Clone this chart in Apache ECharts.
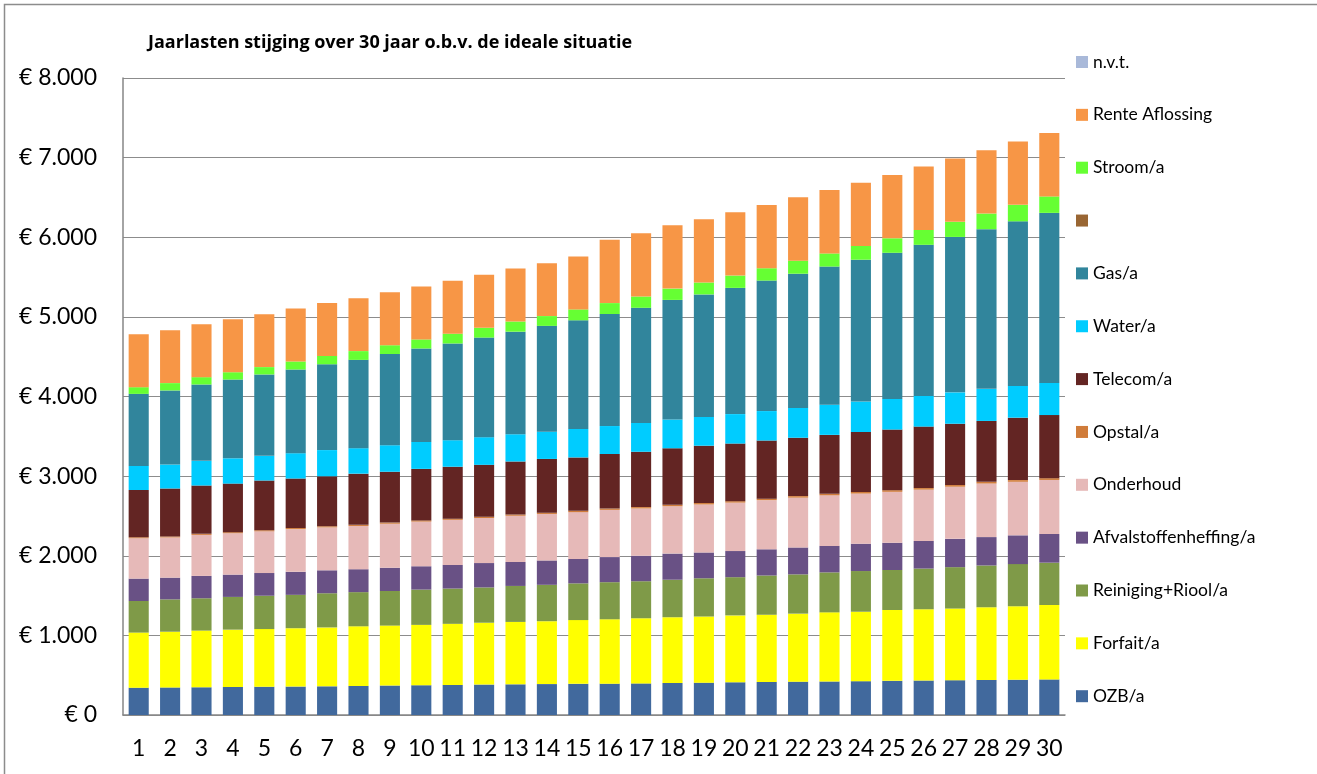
<!DOCTYPE html>
<html>
<head>
<meta charset="utf-8">
<title>Jaarlasten stijging</title>
<script src="https://cdn.jsdelivr.net/npm/echarts@6/dist/echarts.min.js"></script>
<style>
    html, body { margin: 0; padding: 0; background: #fff; }
    #chart { width: 1317px; height: 774px; }
</style>
</head>
<body>
<div id="chart"></div>
<script>
// categorieen (jaren)
var jaren = [];
for (var j = 1; j <= 30; j++) { jaren.push(String(j)); }

var yLabels = ['€ 0', '€ 1.000', '€ 2.000', '€ 3.000', '€ 4.000', '€ 5.000', '€ 6.000', '€ 7.000', '€ 8.000'];

// waarden per post
var ozb = [343, 346, 348, 352, 355, 357, 360, 365, 370, 374, 378, 382, 385, 388, 392, 394, 397, 402, 406, 411, 415, 419, 421, 425, 429, 433, 437, 440, 443, 447];
var forfait = [692, 700, 712, 720, 724, 733, 740, 749, 753, 758, 767, 777, 784, 790, 800, 808, 818, 826, 831, 840, 844, 854, 868, 872, 890, 895, 900, 914, 923, 933];
var reiniging = [397, 406, 406, 411, 419, 419, 429, 429, 434, 443, 443, 443, 452, 457, 461, 466, 465, 471, 480, 480, 493, 493, 502, 511, 502, 511, 520, 524, 529, 533];
var afval = [281, 273, 281, 280, 285, 289, 288, 288, 292, 293, 297, 306, 301, 306, 306, 315, 320, 328, 324, 328, 329, 338, 333, 343, 342, 347, 355, 356, 361, 361];
var onderhoud = [507, 505, 515, 520, 524, 536, 539, 543, 553, 561, 566, 566, 580, 584, 589, 593, 594, 595, 603, 608, 617, 626, 635, 630, 640, 644, 655, 673, 673, 678];
var opstal = [12, 12, 13, 13, 13, 14, 14, 14, 15, 15, 15, 16, 16, 16, 17, 17, 17, 18, 18, 18, 19, 19, 19, 20, 20, 20, 21, 21, 21, 22];
var telecom = [594, 603, 607, 610, 625, 622, 628, 643, 638, 647, 652, 652, 666, 675, 670, 685, 695, 710, 720, 724, 730, 733, 740, 753, 762, 772, 770, 765, 784, 793];
var water = [302, 301, 310, 318, 310, 318, 329, 320, 333, 338, 333, 347, 342, 342, 357, 351, 361, 361, 361, 370, 370, 375, 379, 383, 384, 384, 394, 403, 399, 404];
var gas = [905, 930, 959, 989, 1022, 1051, 1078, 1109, 1146, 1174, 1215, 1251, 1288, 1329, 1365, 1407, 1447, 1502, 1539, 1585, 1639, 1685, 1735, 1781, 1836, 1899, 1952, 2005, 2067, 2135];
var leeg = [0, 0, 0, 0, 0, 0, 0, 0, 0, 0, 0, 0, 0, 0, 0, 0, 0, 0, 0, 0, 0, 0, 0, 0, 0, 0, 0, 0, 0, 0];
var stroom = [84, 92, 92, 92, 92, 101, 105, 110, 110, 114, 123, 123, 128, 123, 137, 137, 142, 142, 150, 155, 155, 164, 165, 173, 182, 187, 190, 197, 207, 207];
var rente = [665, 665, 665, 665, 665, 665, 665, 665, 665, 665, 665, 665, 665, 665, 665, 795, 795, 795, 795, 795, 795, 795, 795, 795, 795, 795, 795, 795, 795, 795];
var nvt = [0, 0, 0, 0, 0, 0, 0, 0, 0, 0, 0, 0, 0, 0, 0, 0, 0, 0, 0, 0, 0, 0, 0, 0, 0, 0, 0, 0, 0, 0];

var seriesNames = ['OZB/a', 'Forfait/a', 'Reiniging+Riool/a', 'Afvalstoffenheffing/a', 'Onderhoud', 'Opstal/a',
    'Telecom/a', 'Water/a', 'Gas/a', ' ', 'Stroom/a', 'Rente Aflossing', 'n.v.t.'];
var seriesData = [ozb, forfait, reiniging, afval, onderhoud, opstal, telecom, water, gas, leeg, stroom, rente, nvt];
var seriesColors = ['#41699d', '#ffff00', '#7f9a48', '#695185', '#e6b9b8', '#d07c3a',
    '#632523', '#00ccff', '#31859c', '#996633', '#66ff33', '#f79646', '#a9b9d9'];

var myChart = echarts.init(document.getElementById('chart'));

var temp_series = [];
for (var i = 0; i < seriesData.length; i++) {
    temp_series.push({
        name: seriesNames[i],
        type: 'bar',
        stack: 'totaal',
        barCategoryGap: '36%',
        itemStyle: { color: seriesColors[i] },
        data: seriesData[i]
    });
}

var option = {
    animation: false,
    textStyle: { fontFamily: 'Lato, "Open Sans", sans-serif', color: '#000' },
    title: {
        text: 'Jaarlasten stijging over 30 jaar o.b.v. de ideale situatie',
        left: 148,
        top: 34,
        padding: 0,
        textStyle: { fontSize: 18, fontWeight: 'bold', color: '#000', fontFamily: '"Open Sans", sans-serif' }
    },
    legend: {
        orient: 'vertical',
        left: 1076,
        top: 53,
        padding: 0,
        itemWidth: 12,
        itemHeight: 12,
        itemGap: 34.85,
        icon: 'rect',
        data: seriesNames.slice().reverse(),
        textStyle: { fontSize: 17.5, lineHeight: 18, color: '#000', padding: [0, 0, 0, 0] }
    },
    grid: {
        left: 123,
        right: 252,
        top: 78,
        bottom: 59
    },
    xAxis: [{
        type: 'category',
        data: jaren,
        axisTick: { show: false },
        axisLine: { lineStyle: { color: '#868686', width: 1.5 } },
        axisLabel: { fontSize: 23, color: '#000', margin: 22, interval: 0 }
    }],
    yAxis: [{
        type: 'value',
        min: 0,
        max: 8000,
        interval: 1000,
        axisLine: { show: true, lineStyle: { color: '#868686', width: 1.5 } },
        axisTick: { show: false },
        splitLine: { lineStyle: { color: '#8c8c8c', width: 1.2 } },
        axisLabel: {
            fontSize: 23,
            color: '#000',
            margin: 26,
            formatter: function (v) { return yLabels[Math.round(v / 1000)]; }
        }
    }],
    graphic: [{
        type: 'polyline',
        shape: { points: [[4.5, 800], [4.5, 4.5], [1320, 4.5]] },
        style: { stroke: '#8c8c8c', lineWidth: 1.5, fill: null },
        silent: true
    }],
    series: temp_series
};

myChart.setOption(option);
</script>
</body>
</html>
